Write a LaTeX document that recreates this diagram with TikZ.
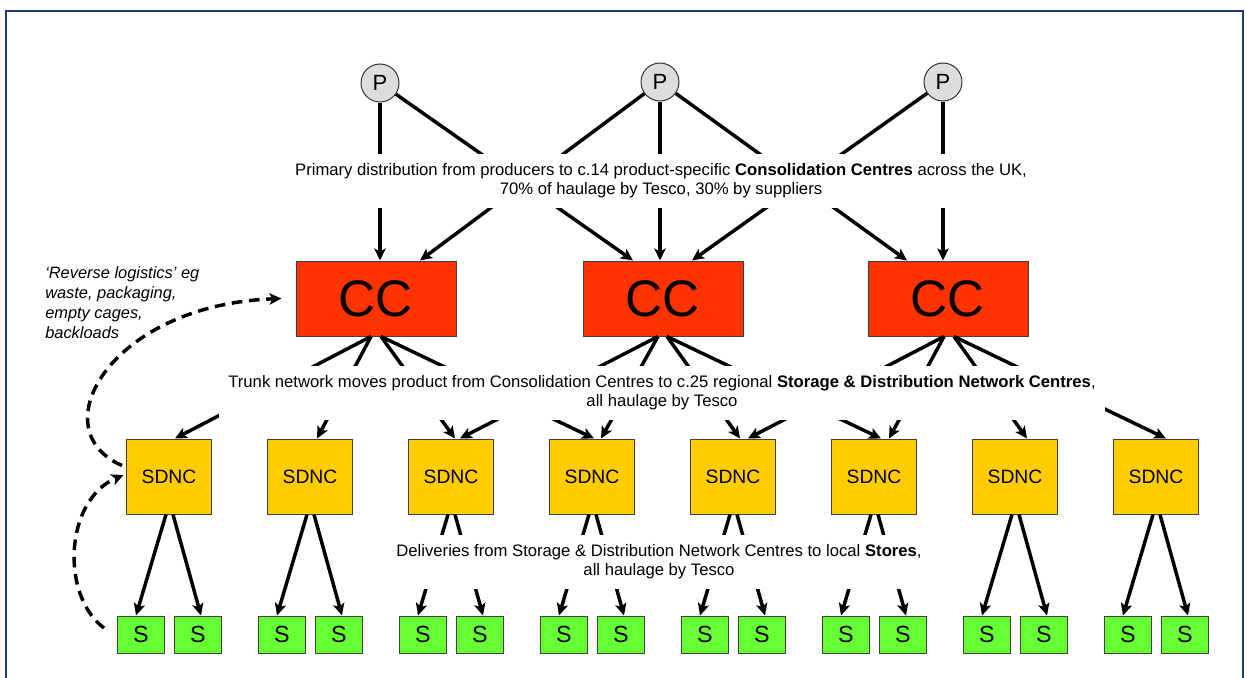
\documentclass[tikz,border=0pt]{standalone}
\usepackage{fontspec}
\setmainfont{Liberation Sans}
\usetikzlibrary{arrows.meta,calc}
\definecolor{ccred}{HTML}{FF3300}
\definecolor{sdyel}{HTML}{FFCC00}
\definecolor{sgreen}{HTML}{66FF33}
\definecolor{pgray}{HTML}{DDDDDD}
\definecolor{framecol}{HTML}{1F3A78}
\begin{document}
\begin{tikzpicture}[x=0.75pt,y=-0.75pt,
  pnode/.style={circle,draw=black!80,line width=0.75pt,fill=pgray,minimum size=28.5pt,inner sep=0pt,font=\fontsize{16.5}{18}\selectfont},
  ccbox/.style={rectangle,draw=black!75,line width=0.75pt,fill=ccred,minimum width=120pt,minimum height=56.25pt,inner sep=0pt,font=\fontsize{38.5}{40}\selectfont},
  sdbox/.style={rectangle,draw=black!75,line width=0.75pt,fill=sdyel,minimum width=63.75pt,minimum height=56.25pt,inner sep=0pt,font=\fontsize{14.5}{16}\selectfont},
  sbox/.style={rectangle,draw=black!75,line width=0.75pt,fill=sgreen,minimum width=35.25pt,minimum height=27.75pt,inner sep=0pt,font=\fontsize{17.5}{18}\selectfont},
  tip/.tip={Stealth[length=9pt,width=8.5pt,inset=2.2pt]},
  flow/.style={line width=2.6pt,-tip},
  rev/.style={line width=2.6pt,dash pattern=on 8pt off 5pt,-tip},
  note/.style={fill=white,align=center,inner sep=7pt,font=\fontsize{12.5}{14.5}\selectfont},
  revnote/.style={align=left,inner sep=0pt,anchor=north west,font=\itshape\fontsize{12.3}{15}\selectfont}
]
\useasboundingbox (0,0) rectangle (1247,678);
\draw[framecol,line width=1.5pt] (6,11) rectangle (1243,710);

% producers
\node[pnode] (p1) at (380,83) {P};
\node[pnode] (p2) at (660,82) {P};
\node[pnode] (p3) at (943,82) {P};

% consolidation centres
\node[ccbox] (c1) at (376,298.5) {CC};
\node[ccbox] (c2) at (663,298.5) {CC};
\node[ccbox] (c3) at (948,298.5) {CC};

% SDNCs and stores
\foreach \i/\x in {1/169,2/310,3/451,4/592,5/733,6/874,7/1015,8/1156}{
  \node[sdbox] (sd\i) at (\x,476.5) {SDNC};
  \node[sbox] (sl\i) at (\x-28,634.5) {S};
  \node[sbox] (sr\i) at (\x+29,634.5) {S};
}

% primary distribution
\draw[flow] (p1) -- (p1 |- c1.north);
\draw[flow] (p1) -- ($(c2.north)+(-30,0)$);
\draw[flow] (p2) -- ($(c1.north)+(44,0)$);
\draw[flow] (p2) -- (p2 |- c2.north);
\draw[flow] (p2) -- ($(c3.north)+(-41,0)$);
\draw[flow] (p3) -- ($(c2.north)+(29,0)$);
\draw[flow] (p3) -- (p3 |- c3.north);

% trunk network
\foreach \s/\dx/\t/\tx in {c1/-5/sd1/6, c1/-5/sd2/7, c1/5/sd3/4, c1/5/sd4/2,
                           c2/-5/sd3/9, c2/-5/sd4/9, c2/4/sd5/7, c2/4/sd6/7,
                           c3/-4/sd5/15, c3/-4/sd6/15, c3/6/sd7/12, c3/6/sd8/10}{
  \draw[flow] ($(\s.south)+(\dx,0)$) -- ($(\t.north)+(\tx,0)$);
}

% deliveries
\foreach \i in {1,...,8}{
  \draw[flow] ($(sd\i.south)+(-3,0)$) -- ($(sl\i.north)+(-5,0)$);
  \draw[flow] ($(sd\i.south)+(4,0)$) -- ($(sr\i.north)+(3,0)$);
}

% reverse logistics
\draw[rev] ($(sd1.west)+(-4,-11)$) .. controls (40,430) and (110,305) .. ($(c1.west)+(-14,0)$);
\draw[rev] ($(sl1.west)+(-13,-6.5)$) .. controls (60,595) and (65,500) .. ($(sd1.west)+(-2.5,-1.5)$);
\node[revnote] (rl) at (45,266) {‘Reverse logistics’ eg\\waste, packaging,\\empty cages,\\backloads};

% labels
\node[note] (t1) at (661,181) {Primary distribution from producers to c.14 product-specific \textbf{Consolidation Centres} across the UK,\\70\% of haulage by Tesco, 30\% by suppliers};
\node[note] (t2) at (662,393) {Trunk network moves product from Consolidation Centres to c.25 regional \textbf{Storage \& Distribution Network Centres},\\all haulage by Tesco};
\node[note] (t3) at (659,562) {Deliveries from Storage \& Distribution Network Centres to local \textbf{Stores},\\all haulage by Tesco};
\end{tikzpicture}
\end{document}
